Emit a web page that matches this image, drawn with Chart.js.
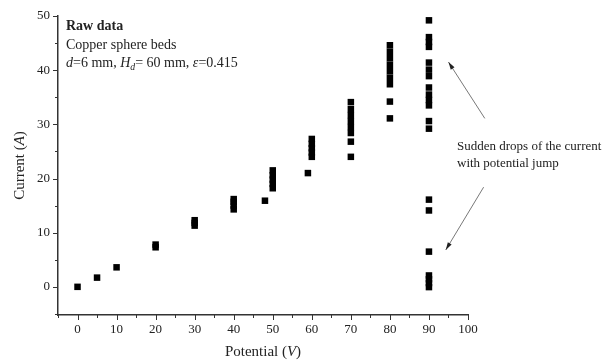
<!DOCTYPE html>
<html>
<head>
<meta charset="utf-8">
<script src="https://cdn.jsdelivr.net/npm/chart.js@4"></script>
<style>
  html, body { margin: 0; padding: 0; background: #fff; }
  #wrap { width: 607px; height: 364px; }
</style>
</head>
<body>
<div id="wrap"><canvas id="chart"></canvas></div>
<script>
// raw data: potential (V) and current (A) pairs
const potential = [
  0, 5, 10,
  20, 20,
  30, 30, 30,
  40, 40, 40, 40,
  48,
  50, 50, 50, 50, 50,
  59,
  60, 60, 60, 60, 60,
  70, 70, 70, 70, 70, 70, 70, 70,
  80, 80, 80, 80, 80, 80, 80, 80, 80,
  90, 90, 90, 90, 90, 90, 90, 90, 90, 90, 90, 90, 90, 90, 90, 90, 90, 90, 90, 90
];
const current = [
  0, 1.7, 3.6,
  7.3, 7.8,
  11.3, 11.8, 12.3,
  14.3, 15.0, 15.7, 16.2,
  15.9,
  18.2, 19.0, 19.8, 20.6, 21.5,
  21.0,
  24.0, 24.8, 25.6, 26.4, 27.3,
  24.0, 26.8, 28.4, 29.5, 30.6, 31.7, 32.8, 34.1,
  31.1, 34.2, 37.4, 38.6, 39.8, 41.0, 42.2, 43.4, 44.6,
  -0.05, 0.7, 1.4, 2.1, 6.5, 14.1, 16.1, 29.2, 30.6, 33.5, 34.5, 35.5, 36.8,
  38.9, 40.1, 41.4, 44.3, 45.2, 46.1, 49.2
];
const xTicks = [0, 10, 20, 30, 40, 50, 60, 70, 80, 90, 100];
const yTicks = [0, 10, 20, 30, 40, 50];

const serif = "'Liberation Serif', 'DejaVu Serif', serif";
const ink = "#222";

// draws a run of text pieces, each piece may be italic / bold / subscript
function drawRuns(ctx, runs, x, y, size) {
  let cx = x;
  runs.forEach((r) => {
    const fs = r.sub ? size * 0.7 : size;
    ctx.font = (r.italic ? "italic " : "") + (r.bold ? "bold " : "") + fs + "px " + serif;
    ctx.fillText(r.t, cx, r.sub ? y + size * 0.3 : y);
    cx += ctx.measureText(r.t).width;
  });
  return cx - x;
}

const decor = {
  id: "decor",
  afterDraw(chart) {
    const ctx = chart.ctx;
    const xs = chart.scales.x;
    const ys = chart.scales.y;
    const area = chart.chartArea;
    ctx.save();
    ctx.strokeStyle = "#333";
    ctx.lineWidth = 1;

    // ticks, majors every 10, minors at 5
    xs.ticks.forEach((t) => {
      const px = Math.round(xs.getPixelForValue(t.value)) + 0.5;
      const len = t.value % 10 === 0 ? 5 : 3;
      ctx.beginPath();
      ctx.moveTo(px, area.bottom);
      ctx.lineTo(px, area.bottom + len);
      ctx.stroke();
    });
    ys.ticks.forEach((t) => {
      const py = Math.round(ys.getPixelForValue(t.value)) + 0.5;
      const len = t.value % 10 === 0 ? 5 : 3;
      ctx.beginPath();
      ctx.moveTo(area.left, py);
      ctx.lineTo(area.left - len, py);
      ctx.stroke();
    });

    // axis titles
    ctx.fillStyle = ink;
    ctx.textBaseline = "middle";
    const xt = [{ t: "Potential (" }, { t: "V", italic: true }, { t: ")" }];
    let w = 0;
    xt.forEach((r) => {
      ctx.font = (r.italic ? "italic " : "") + "15px " + serif;
      w += ctx.measureText(r.t).width;
    });
    drawRuns(ctx, xt, (area.left + area.right) / 2 - w / 2, 352, 15);

    const yt = [{ t: "Current (" }, { t: "A", italic: true }, { t: ")" }];
    w = 0;
    yt.forEach((r) => {
      ctx.font = (r.italic ? "italic " : "") + "15px " + serif;
      w += ctx.measureText(r.t).width;
    });
    ctx.save();
    ctx.translate(20, (area.top + area.bottom) / 2);
    ctx.rotate(-Math.PI / 2);
    drawRuns(ctx, yt, -w / 2, 0, 15);
    ctx.restore();

    // notes in the upper left
    const nx = area.left + 8;
    drawRuns(ctx, [{ t: "Raw data", bold: true }], nx, 26, 14);
    drawRuns(ctx, [{ t: "Copper sphere beds" }], nx, 45, 14);
    drawRuns(ctx, [
      { t: "d", italic: true }, { t: "=6 mm, " },
      { t: "H", italic: true }, { t: "d", italic: true, sub: true },
      { t: "= 60 mm, " }, { t: "ε", italic: true }, { t: "=0.415" }
    ], nx, 63, 14);

    // note on the right with arrows
    ctx.font = "13px " + serif;
    ctx.fillText("Sudden drops of the current", 457, 147);
    ctx.fillText("with potential jump", 457, 164);

    const arrow = (x0, y0, x1, y1) => {
      const ax = xs.getPixelForValue(x0), ay = ys.getPixelForValue(y0);
      const bx = xs.getPixelForValue(x1), by = ys.getPixelForValue(y1);
      ctx.strokeStyle = "#555";
      ctx.lineWidth = 0.8;
      ctx.beginPath();
      ctx.moveTo(ax, ay);
      ctx.lineTo(bx, by);
      ctx.stroke();
      const a = Math.atan2(by - ay, bx - ax);
      ctx.fillStyle = "#222";
      ctx.beginPath();
      ctx.moveTo(bx, by);
      ctx.lineTo(bx - 8 * Math.cos(a - 0.28), by - 8 * Math.sin(a - 0.28));
      ctx.lineTo(bx - 8 * Math.cos(a + 0.28), by - 8 * Math.sin(a + 0.28));
      ctx.closePath();
      ctx.fill();
    };
    arrow(104.3, 31.1, 95.0, 41.5);
    arrow(104.0, 18.4, 94.3, 6.8);
    ctx.restore();
  }
};

new Chart(document.getElementById("chart"), {
  type: "scatter",
  data: {
    datasets: [
      {
        data: potential.map((p, i) => ({ x: p, y: current[i] })),
        pointStyle: "rect",
        pointRadius: 4.6,
        pointHoverRadius: 4.6,
        backgroundColor: "#000",
        borderWidth: 0,
      },
    ],
  },
  options: {
    responsive: true,
    maintainAspectRatio: false,
    animation: false,
    layout: { padding: { left: 0, right: 139, top: 16, bottom: 0 } },
    plugins: { legend: { display: false }, tooltip: { enabled: false } },
    scales: {
      x: {
        type: "linear",
        min: -5,
        max: 100,
        afterBuildTicks: (s) => {
          s.ticks = [];
          for (let v = -5; v <= 100; v += 5) s.ticks.push({ value: v });
        },
        afterFit: (s) => { s.height = 49; },
        grid: { display: false, drawTicks: false },
        border: { color: "#333", width: 1.5 },
        ticks: {
          padding: 7,
          autoSkip: false,
          maxRotation: 0,
          color: ink,
          font: { family: serif, size: 13 },
          callback: (v) => (xTicks.includes(v) ? v : ""),
        },
      },
      y: {
        type: "linear",
        min: -5.2,
        max: 50,
        afterBuildTicks: (s) => {
          s.ticks = [];
          for (let v = -5; v <= 50; v += 5) s.ticks.push({ value: v });
        },
        afterFit: (s) => { s.width = 58; },
        grid: { display: false, drawTicks: false },
        border: { color: "#333", width: 1.5 },
        ticks: {
          padding: 8,
          autoSkip: false,
          color: ink,
          font: { family: serif, size: 13 },
          callback: (v) => (yTicks.includes(v) ? v : ""),
        },
      },
    },
  },
  plugins: [decor],
});
</script>
</body>
</html>
